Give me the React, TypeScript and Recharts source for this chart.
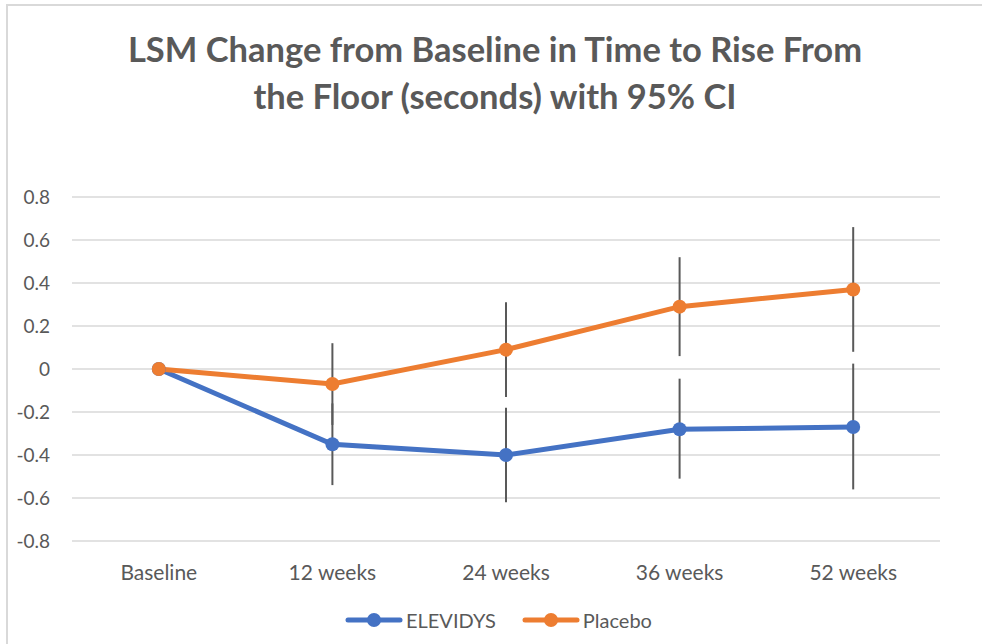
import { LineChart, Line, XAxis, YAxis, CartesianGrid, ErrorBar } from 'recharts'

const categories = ['Baseline', '12 weeks', '24 weeks', '36 weeks', '52 weeks']
const elevidys = [0, -0.35, -0.4, -0.28, -0.27]
const elevidysLow = [0, -0.54, -0.62, -0.51, -0.56]
const elevidysHigh = [0, -0.16, -0.18, -0.045, 0.025]
const placebo = [0, -0.07, 0.09, 0.29, 0.37]
const placeboLow = [0, -0.26, -0.13, 0.06, 0.08]
const placeboHigh = [0, 0.12, 0.31, 0.52, 0.66]
const yTicks = [-0.8, -0.6, -0.4, -0.2, 0, 0.2, 0.4, 0.6, 0.8]

const BLUE = '#4472C4'
const ORANGE = '#ED7D31'
const TEXT = '#595959'
const FONT = 'Lato, "Open Sans", sans-serif'

const data = categories.map((name, i) => ({
  name,
  elevidys: elevidys[i],
  eErr: [elevidys[i] - elevidysLow[i], elevidysHigh[i] - elevidys[i]],
  placebo: placebo[i],
  pErr: [placebo[i] - placeboLow[i], placeboHigh[i] - placebo[i]],
}))

const legendItems = [
  { name: 'ELEVIDYS', color: BLUE },
  { name: 'Placebo', color: ORANGE },
]

function ChartLegend() {
  return (
    <div
      style={{
        position: 'absolute', left: 345, top: 608, display: 'flex', gap: 26,
        fontFamily: FONT, fontSize: 20, color: TEXT,
      }}
    >
      {legendItems.map((it) => (
        <div key={it.name} style={{ display: 'flex', alignItems: 'center', gap: 3 }}>
          <svg width={58} height={16}>
            <line x1={3} y1={8} x2={55} y2={8} stroke={it.color} strokeWidth={5} strokeLinecap="round" />
            <circle cx={29} cy={8} r={7} fill={it.color} />
          </svg>
          <span>{it.name}</span>
        </div>
      ))}
    </div>
  )
}

export default function App() {
  return (
    <div style={{ position: 'absolute', left: 0, top: 0, width: 982, height: 644, background: '#fff', overflow: 'hidden' }}>
      {/* chart frame, only left and top edges visible */}
      <div style={{ position: 'absolute', left: 6, top: 4, width: 1000, height: 700, borderLeft: '2px solid #d9d9d9', borderTop: '2px solid #d9d9d9' }} />

      {/* Title */}
      <div
        style={{
          position: 'absolute', left: 0, top: 25, width: 990, textAlign: 'center',
          fontFamily: FONT, fontWeight: 700, fontSize: 34.5, lineHeight: '47px', color: TEXT,
        }}
      >
        LSM Change from Baseline in Time to Rise From
        <br />
        the Floor (seconds) with 95% CI
      </div>

      <div style={{ position: 'absolute', left: 0, top: 0 }}>
        <LineChart width={982} height={644} data={data} margin={{ top: 197, right: 42, bottom: 73, left: 0 }}>
          <CartesianGrid vertical={false} stroke="#d9d9d9" strokeWidth={1.5} />
          <XAxis
            dataKey="name"
            height={30}
            axisLine={false}
            tickLine={false}
            tickSize={0}
            tickMargin={24}
            padding={{ left: 86.8, right: 86.8 }}
            tick={{ fill: TEXT, fontSize: 21, fontFamily: FONT }}
          />
          <YAxis
            width={72}
            domain={[-0.8, 0.8]}
            ticks={yTicks}
            axisLine={false}
            tickLine={false}
            tickSize={0}
            tickMargin={22}
            tick={{ fill: TEXT, fontSize: 19, fontFamily: FONT }}
          />
          <Line
            dataKey="elevidys"
            name="ELEVIDYS"
            stroke={BLUE}
            strokeWidth={5}
            dot={{ r: 7, fill: BLUE, stroke: BLUE, strokeWidth: 0 }}
            isAnimationActive={false}
          >
            <ErrorBar dataKey="eErr" width={0} stroke="#595959" strokeWidth={2} direction="y" />
          </Line>
          <Line
            dataKey="placebo"
            name="Placebo"
            stroke={ORANGE}
            strokeWidth={5}
            dot={{ r: 7, fill: ORANGE, stroke: ORANGE, strokeWidth: 0 }}
            isAnimationActive={false}
          >
            <ErrorBar dataKey="pErr" width={0} stroke="#595959" strokeWidth={2} direction="y" />
          </Line>
        </LineChart>
      </div>

      <ChartLegend />
    </div>
  )
}
